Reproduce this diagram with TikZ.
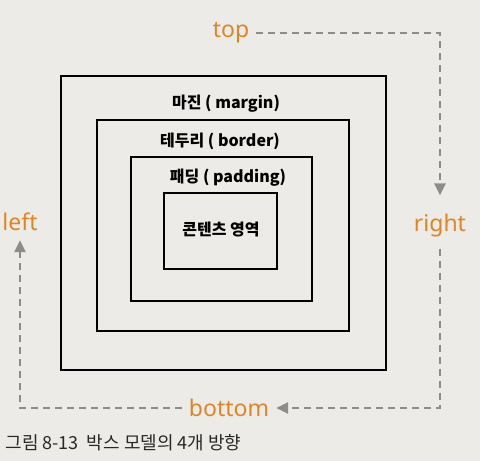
\documentclass[tikz,border=0pt]{standalone}
\usepackage{fontspec}
\setmainfont{Noto Sans}
\newfontfamily\krfont{Noto Sans CJK KR}
\usetikzlibrary{arrows.meta, positioning}
\definecolor{paper}{RGB}{236,235,231}
\definecolor{sideorange}{RGB}{222,134,38}
\definecolor{dashgray}{RGB}{140,140,140}
\definecolor{captiongray}{RGB}{40,40,40}
\tikzset{
  layer/.style={draw=black, line width=2pt},
  layername/.style={font=\krfont\bfseries\fontsize{16}{16}\selectfont},
  side/.style={text=sideorange, font=\fontsize{23}{23}\selectfont, inner sep=1pt},
  flow/.style={draw=dashgray, line width=2.6pt, dash pattern=on 7pt off 5pt,
    -{Triangle[length=12pt,width=11pt]}},
}

\begin{document}
\begin{tikzpicture}[x=1pt, y=-1pt]
  \fill[paper] (0,0) rectangle (480,461);
  \useasboundingbox (0,0) rectangle (480,461);

  % nested boxes, outside in
  \foreach \l/\t/\r/\b in {61/76/386/370, 97/120/349/331, 131/157/312/301, 164/193/277/269} {
    \draw[layer] (\l,\t) rectangle (\r,\b);
  }

  \node[layername] (margin) at (226,104) {마진 ( margin)};
  \node[layername] (border) at (220,141) {테두리 ( border)};
  \node[layername] (padding) at (228,178) {패딩 ( padding)};
  \node[layername] (content) at (221,230) {콘텐츠 영역};

  % four sides
  \node[side] (top) at (231,33) {top};
  \node[side] (right) at (440,226) {right};
  \node[side] (bottom) at (229,408) {bottom};
  \node[side] (left) at (20,222) {left};

  \draw[flow, shorten <=6pt, shorten >=18pt] (top.east) -| (right.north);
  \draw[flow, shorten <=10pt, shorten >=6pt] (right.south) |- (bottom.east);
  \draw[flow, shorten <=6pt, shorten >=8pt] (bottom.west) -| (left.south);

  \node[anchor=west, text=captiongray, font=\krfont\fontsize{18}{18}\selectfont] (caption) at (2,443)
    {그림 8-13\hspace{8pt}박스 모델의 4개 방향};
\end{tikzpicture}
\end{document}
